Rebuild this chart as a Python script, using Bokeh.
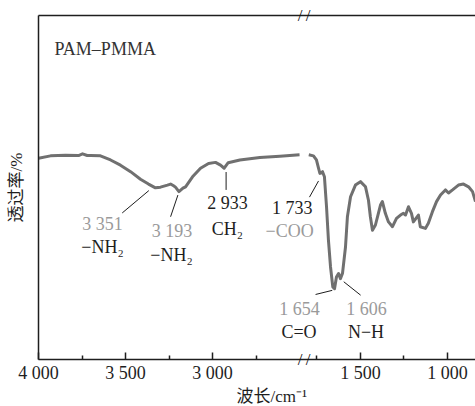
from bokeh.plotting import figure
from bokeh.models import Range1d, FixedTicker, LinearAxis, Label, Title
from bokeh.embed import file_html
from bokeh.resources import INLINE

# ---- data ----
wn_left = [4000, 3931, 3845, 3770, 3747, 3720, 3701, 3644, 3586, 3529, 3471, 3414,
           3368, 3328, 3299, 3259, 3241, 3224, 3213, 3193, 3170, 3155, 3115, 3069,
           3023, 2983, 2954, 2933, 2910, 2843, 2728, 2613, 2500]
t_left = [58.5, 59.2, 59.4, 59.3, 59.8, 59.3, 59.3, 59.2, 58.0, 56.5, 54.6, 52.4,
          51.0, 49.9, 50.1, 50.7, 51.0, 50.5, 50.1, 48.8, 49.8, 50.2, 53.1, 55.6,
          57.0, 57.3, 56.5, 55.6, 57.2, 58.0, 58.7, 59.1, 59.5]

wn_right = [1797, 1770, 1753, 1741, 1733, 1718, 1707, 1695, 1684, 1672, 1659, 1649,
            1638, 1626, 1615, 1603, 1586, 1575, 1557, 1529, 1500, 1471, 1454, 1443,
            1431, 1414, 1397, 1385, 1374, 1357, 1339, 1316, 1293, 1270, 1253, 1241,
            1224, 1207, 1196, 1167, 1156, 1127, 1110, 1087, 1063, 1040, 1012, 994,
            971, 937, 908, 879, 856, 839]
t_right = [59.5, 59.2, 58.0, 55.6, 54.1, 54.6, 53.1, 44.4, 34.7, 26.9, 21.1, 20.6,
           24.0, 25.0, 23.5, 25.1, 32.7, 41.5, 47.3, 50.7, 51.7, 50.2, 46.3, 41.5,
           37.6, 39.1, 42.5, 44.9, 45.9, 42.5, 40.0, 38.6, 41.0, 42.0, 42.5, 42.0,
           44.4, 42.5, 40.0, 42.0, 38.6, 38.1, 39.6, 42.9, 45.9, 47.8, 49.3, 48.4,
           49.3, 50.7, 51.0, 50.2, 48.8, 45.9]

tick_wn = [4000, 3500, 3000, 1500, 1000]
tick_labels = ["4 000", "3 500", "3 000", "1 500", "1 000"]
minor_wn = [3750, 3250, 2750, 1750, 1250]

# broken axis: 4000-2500 | gap | 1800-...
LEFT_START, LEFT_END, RIGHT_START, GAP = 4000, 2500, 1800, 50


def to_u(w):
    if w >= LEFT_END:
        return LEFT_START - w
    return (LEFT_START - LEFT_END) + GAP + (RIGHT_START - w)


SERIF = "Liberation Serif, Noto Sans CJK SC"
GRAY_TXT = "#9a9a9a"
BLACK = "#1e1e1e"
CURVE = "#707070"

p = figure(width=475, height=406, x_range=Range1d(0, 2511), y_range=Range1d(0, 100),
           output_backend="svg", toolbar_location=None,
           x_axis_type=None, y_axis_type=None,
           min_border_left=38, min_border_right=0, min_border_top=15, min_border_bottom=47)
p.outline_line_color = None
p.xgrid.visible = False
p.ygrid.visible = False
p.background_fill_color = "white"
p.border_fill_color = "white"

major_u = [to_u(w) for w in tick_wn]
minor_u = [to_u(w) for w in minor_wn]


def bare(ax):
    ax.major_tick_in = 0
    ax.major_tick_out = 0
    ax.minor_tick_in = 0
    ax.minor_tick_out = 0


# bottom axis: line, ticks and numbers
xaxis = LinearAxis(ticker=FixedTicker(ticks=major_u, minor_ticks=minor_u),
                   major_label_overrides={u: l for u, l in zip(major_u, tick_labels)})
xaxis.axis_line_color = BLACK
xaxis.axis_line_width = 1.5
xaxis.major_tick_in = 7
xaxis.major_tick_out = 0
xaxis.minor_tick_in = 4
xaxis.minor_tick_out = 0
xaxis.major_tick_line_color = BLACK
xaxis.major_tick_line_width = 1.5
xaxis.minor_tick_line_color = BLACK
xaxis.minor_tick_line_width = 1.5
xaxis.major_label_standoff = 3
xaxis.major_label_text_font = SERIF
xaxis.major_label_text_font_size = "18px"
xaxis.major_label_text_color = BLACK
p.add_layout(xaxis, "below")

p.add_layout(Title(text="波长/cm⁻¹", align="left", offset=198, standoff=-2,
                   text_font=SERIF, text_font_size="17px", text_font_style="normal",
                   text_color=BLACK), "below")

# left axis: frame line, y title, and the two axis-break marks "//"
BREAK_STANDOFF = -272
yaxis = LinearAxis(ticker=FixedTicker(ticks=[0.05, 50, 99.95]), axis_label="透过率/%",
                   major_label_overrides={0.05: "/\u2009/", 50: "", 99.95: "/\u2009/"})
yaxis.axis_line_color = BLACK
yaxis.axis_line_width = 1.5
bare(yaxis)
yaxis.major_label_standoff = BREAK_STANDOFF
yaxis.major_label_text_font = SERIF
yaxis.major_label_text_font_size = "17px"
yaxis.major_label_text_font_style = "normal"
yaxis.major_label_text_color = "#111111"
yaxis.axis_label_standoff = 269
yaxis.axis_label_text_font = SERIF
yaxis.axis_label_text_font_size = "17px"
yaxis.axis_label_text_font_style = "normal"
yaxis.axis_label_text_color = BLACK
p.add_layout(yaxis, "left")

top = LinearAxis(ticker=FixedTicker(ticks=[]))
top.axis_line_color = BLACK
top.axis_line_width = 1.5
bare(top)
top.major_label_text_font_size = "0px"
p.add_layout(top, "above")

# spectrum
p.line([to_u(w) for w in wn_left], t_left, line_color=CURVE, line_width=3, line_join="round")
p.line([to_u(w) for w in wn_right], t_right, line_color=CURVE, line_width=3, line_join="round")

# leader lines
lead_x0 = [481, 759, 1078, 1557, 1592, 1754]
lead_y0 = [42.6, 41.5, 54.5, 47.2, 18.9, 22.6]
lead_x1 = [634, 801, 1078, 1609, 1688, 1851]
lead_y1 = [49.1, 47.8, 49.3, 51.9, 20.1, 18.7]
p.segment(lead_x0, lead_y0, lead_x1, lead_y1, line_color=BLACK, line_width=1)

# peak annotations (text, x, y, colour)
annots = [
    ("3 351", 368, 39.4, GRAY_TXT), ("−NH₂", 368, 32.6, BLACK),
    ("3 193", 767, 37.3, GRAY_TXT), ("−NH₂", 764, 30.3, BLACK),
    ("2 933", 1086, 45.5, BLACK), ("CH₂", 1086, 38.0, BLACK),
    ("1 733", 1458, 44.0, BLACK), ("−COO", 1443, 37.3, GRAY_TXT),
    ("1 654", 1500, 14.6, GRAY_TXT), ("C=O", 1497, 8.0, BLACK),
    ("1 606", 1885, 14.6, GRAY_TXT), ("N−H", 1882, 8.0, BLACK),
]
for txt, x, y, c in annots:
    p.add_layout(Label(x=x, y=y, text=txt, text_align="center", text_baseline="middle",
                       text_font=SERIF, text_font_size="18px", text_color=c))

p.add_layout(Label(x=92, y=90.4, text="PAM–PMMA", text_align="left", text_baseline="middle",
                   text_font=SERIF, text_font_size="18px", text_color="#333333"))

open("out.html", "w").write(file_html(p, INLINE))
